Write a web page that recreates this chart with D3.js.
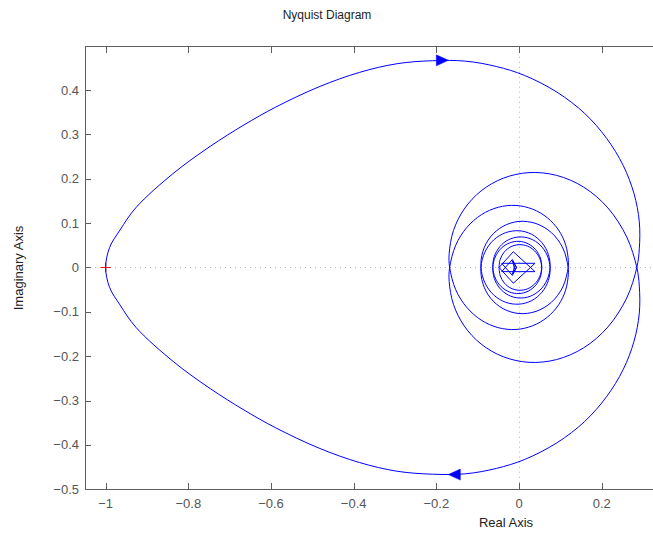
<!DOCTYPE html>
<html>
<head>
<meta charset="utf-8">
<script src="https://cdn.jsdelivr.net/npm/d3@7"></script>
<style>
  body { margin: 0; background: #fff; }
  text { font-family: "Liberation Sans", Arial, Helvetica, sans-serif; }
</style>
</head>
<body>
<svg id="chart" width="653" height="536"></svg>
<script>
// Axis ticks
const xTicks = [-1, -0.8, -0.6, -0.4, -0.2, 0, 0.2];
const yTicks = [-0.5, -0.4, -0.3, -0.2, -0.1, 0, 0.1, 0.2, 0.3, 0.4];

// Positive-frequency branch [Re, Im]: main loop from -1 round to the right-hand crossing
const loopBranch = [
  [-1.000, 0.000], [-0.9905, 0.0450], [-0.9653, 0.0844], [-0.9266, 0.1351],
  [-0.8349, 0.2132], [-0.7474, 0.2728], [-0.6652, 0.3214], [-0.5891, 0.3612],
  [-0.4836, 0.4073], [-0.3862, 0.4396], [-0.2949, 0.4593], [-0.209, 0.466],
  [-0.129, 0.465], [-0.055, 0.453], [0.013, 0.433], [0.092, 0.395],
  [0.159, 0.347], [0.212, 0.291], [0.252, 0.230], [0.278, 0.167],
  [0.291, 0.103], [0.291, 0.042], [0.285, 0.000]
];

// Positive-frequency branch: spiral turns closing in on the origin
const spiralBranch = [
  [0.2605, -0.0688], [0.2149, -0.1343], [0.1564, -0.1811], [0.0908, -0.2076],
  [0.0241, -0.2138], [-0.0382, -0.2012], [-0.0916, -0.1727], [-0.1325, -0.1319],
  [-0.1586, -0.0832], [-0.1690, -0.0313], [-0.1678, 0.0000],
  [-0.1531, 0.0502], [-0.1266, 0.0898], [-0.0911, 0.1189], [-0.0502, 0.1357],
  [-0.0076, 0.1398], [0.0330, 0.1314], [0.0682, 0.1123], [0.0957, 0.0842],
  [0.1128, 0.0510], [0.1193, 0.0154], [0.1189, 0.0000],
  [0.1060, -0.0439], [0.0784, -0.0784], [0.0410, -0.0990], [0.0000, -0.1038],
  [-0.0385, -0.0929], [-0.0690, -0.0690], [-0.0875, -0.0362], [-0.0921, 0.0000],
  [-0.0827, 0.0343], [-0.0617, 0.0617], [-0.0325, 0.0784], [0.0000, 0.0827],
  [0.0309, 0.0746], [0.0556, 0.0556], [0.0710, 0.0294], [0.0751, 0.0000],
  [0.0678, -0.0281], [0.0508, -0.0508], [0.0269, -0.0650], [0.0000, -0.0688],
  [-0.0258, -0.0623], [-0.0467, -0.0467], [-0.0598, -0.0248], [-0.0634, 0.0000],
  [-0.0575, 0.0238], [-0.0432, 0.0432], [-0.0229, 0.0553], [0.0000, 0.0589],
  [0.0221, 0.0534], [0.0402, 0.0402], [0.0516, 0.0214], [0.0549, 0.0000],
  [0.0499, -0.0207], [0.0375, -0.0375], [0.0200, -0.0483], [0.0000, -0.0514],
  [-0.0194, -0.0468], [-0.0353, -0.0353], [-0.0454, -0.0188], [-0.0484, 0.0000]
];

// Positive-frequency branch: sparse high-frequency samples (straight segments)
const tailBranch = [
  [-0.0484, 0.0000], [-0.0138, 0.0355], [0.0387, -0.0094], [-0.0420, -0.0094],
  [-0.0160, 0.0180], [-0.0060, 0.0000], [-0.0160, -0.0150], [-0.0100, 0.0050]
];

// Direction arrow location on the positive branch, and the critical point
const arrowPoint = [-0.171, 0.4668];
const criticalPoint = [-1, 0];

const W = 653, H = 536;
const svg = d3.select("#chart");
svg.append("rect").attr("width", W).attr("height", H).attr("fill", "#fff");

const x = d3.scaleLinear().domain([-1.05, 0.35]).range([85, 663.7]);
const y = d3.scaleLinear().domain([-0.5, 0.4976]).range([489.3, 46.7]);

const axisColor = "#5e5e5e";
const textColor = "#555";

// Zero lines (dotted)
const zero = svg.append("g").attr("stroke", "#b5b5b5").attr("stroke-width", 1)
  .attr("stroke-dasharray", "1,4");
zero.append("line").attr("x1", x(-1.05)).attr("x2", W).attr("y1", Math.round(y(0)) + 0.5).attr("y2", Math.round(y(0)) + 0.5);
zero.append("line").attr("x1", Math.round(x(0)) + 0.5).attr("x2", Math.round(x(0)) + 0.5).attr("y1", y(0.4976)).attr("y2", y(-0.5));

// Critical point marker
const cp = svg.append("g").attr("stroke", "#ff0000").attr("stroke-width", 1);
cp.append("line").attr("x1", x(criticalPoint[0]) - 5).attr("x2", x(criticalPoint[0]) + 5)
  .attr("y1", y(criticalPoint[1])).attr("y2", y(criticalPoint[1]));
cp.append("line").attr("x1", x(criticalPoint[0])).attr("x2", x(criticalPoint[0]))
  .attr("y1", y(criticalPoint[1]) - 5).attr("y2", y(criticalPoint[1]) + 5);

// Curves: positive branch and its mirror image (negative frequencies)
const mirror = pts => pts.map(p => [p[0], -p[1]]);
const smoothPos = loopBranch.concat(spiralBranch);
const smoothFull = mirror(smoothPos).reverse().concat(smoothPos.slice(1));

const smoothLine = d3.line().x(d => x(d[0])).y(d => y(d[1])).curve(d3.curveCatmullRom.alpha(0.5));
const straightLine = d3.line().x(d => x(d[0])).y(d => y(d[1]));

const curves = svg.append("g").attr("fill", "none").attr("stroke", "#0000ff").attr("stroke-width", 1);
curves.append("path").attr("d", smoothLine(smoothFull));
curves.append("path").attr("d", straightLine(tailBranch));
curves.append("path").attr("d", straightLine(mirror(tailBranch)));

// Direction arrows: positive branch moves right on top, mirrored branch moves left below
function arrow(pt, dirSign) {
  const px = x(pt[0]), py = y(pt[1]);
  const len = 12, half = 5.5;
  const bx = px - dirSign * len;
  svg.append("path")
    .attr("d", `M${px},${py}L${bx},${py - half}L${bx},${py + half}Z`)
    .attr("fill", "#0000ff").attr("stroke", "#0000ff").attr("stroke-width", 0.5);
}
arrow(arrowPoint, 1);
arrow([arrowPoint[0], -arrowPoint[1]], -1);

// Axes box (left, bottom, top)
const g = svg.append("g");
g.append("line").attr("x1", 85.5).attr("x2", 85.5).attr("y1", 46.5).attr("y2", 489.5).attr("stroke", axisColor);
g.append("line").attr("x1", 85).attr("x2", W).attr("y1", 489.5).attr("y2", 489.5).attr("stroke", axisColor);
g.append("line").attr("x1", 85).attr("x2", W).attr("y1", 46.5).attr("y2", 46.5).attr("stroke", axisColor);

// Ticks
const fmt = t => (t < 0 ? "\u2212" + d3.format("")(-t) : d3.format("")(t));
xTicks.forEach(t => {
  const px = Math.round(x(t)) + 0.5;
  g.append("line").attr("x1", px).attr("x2", px).attr("y1", 489).attr("y2", 483).attr("stroke", axisColor);
  g.append("line").attr("x1", px).attr("x2", px).attr("y1", 47).attr("y2", 53).attr("stroke", axisColor);
  g.append("text").attr("x", x(t)).attr("y", 508).attr("text-anchor", "middle")
    .attr("font-size", 13).attr("fill", textColor).text(fmt(t));
});
yTicks.forEach(t => {
  const py = Math.round(y(t)) + 0.5;
  g.append("line").attr("x1", 86).attr("x2", 91).attr("y1", py).attr("y2", py).attr("stroke", axisColor);
  g.append("text").attr("x", 79).attr("y", y(t) + 4.5).attr("text-anchor", "end")
    .attr("font-size", 13).attr("fill", textColor).text(fmt(t));
});

// Labels
svg.append("text").attr("x", 327).attr("y", 19).attr("text-anchor", "middle")
  .attr("font-size", 12).attr("fill", "#222").text("Nyquist Diagram");
svg.append("text").attr("x", 506).attr("y", 527).attr("text-anchor", "middle")
  .attr("font-size", 13).attr("fill", "#222").text("Real Axis");
svg.append("text").attr("transform", "translate(23,268) rotate(-90)").attr("text-anchor", "middle")
  .attr("font-size", 13).attr("fill", "#222").text("Imaginary Axis");
</script>
</body>
</html>
